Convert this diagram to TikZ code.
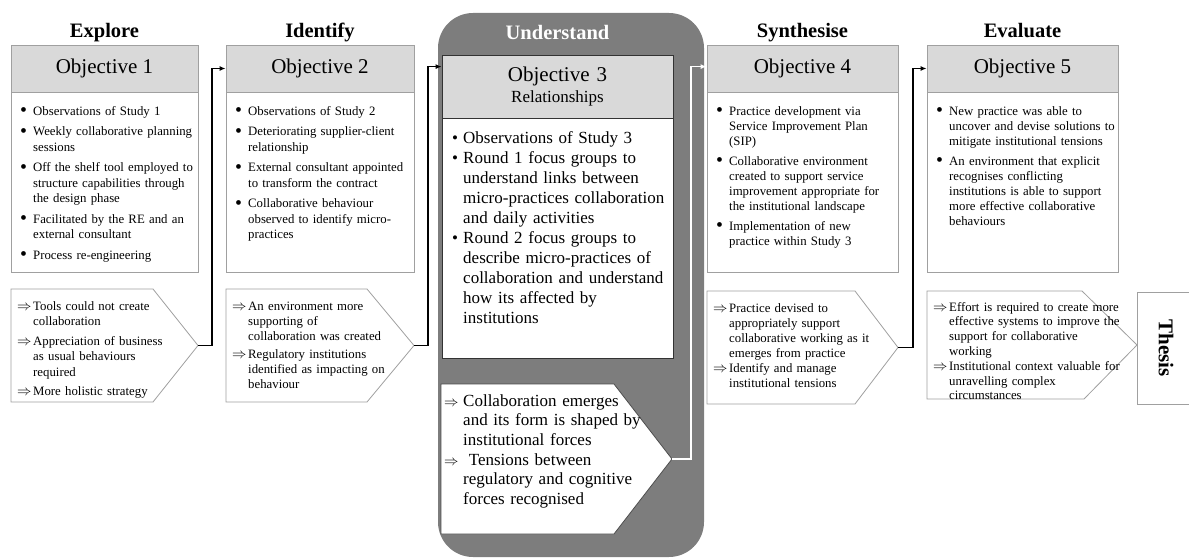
\documentclass[tikz,border=0pt]{standalone}
\usepackage{fontspec}
\setmainfont{Liberation Serif}
\usetikzlibrary{arrows.meta,calc}
\definecolor{hdrfill}{RGB}{217,217,217}
\definecolor{edge}{RGB}{160,160,160}
\definecolor{panel}{RGB}{125,125,125}
% bullet / implication markers hanging left of the text column
\newcommand\bigdot{\raisebox{-1.6pt}{\scalebox{1.55}{\textbullet}}}
\newcommand\bl{\leavevmode\llap{\makebox[12pt][l]{\hspace{-1pt}\bigdot}}\strut}
\newcommand\blw{\leavevmode\llap{\makebox[11pt][l]{\textbullet}}\strut}
\newcommand\ar{\leavevmode\llap{\makebox[16pt][l]{\fontsize{14.5}{10}\selectfont$\Rightarrow$}}\strut}
\newcommand\arw{\leavevmode\llap{\makebox[19pt][l]{\fontsize{15}{10}\selectfont$\Rightarrow$}}\strut}
\newcommand\gap[1]{\par\vspace{#1}}
\tikzset{
  stage/.style={font=\bfseries\fontsize{20.5}{22}\selectfont, anchor=base, inner sep=0pt},
  objbox/.style={draw=edge, fill=hdrfill, line width=0.8pt, inner sep=0pt, font=\fontsize{21}{21}\selectfont},
  bodybox/.style={draw=edge, fill=white, line width=0.8pt, inner sep=0pt},
  pent/.style={draw=edge, fill=white, line width=0.8pt},
  txt/.style={anchor=north west, inner sep=0pt, text width=230pt,
    font=\fontsize{12.8}{15.5}\selectfont,
    execute at begin node={\parindent0pt\raggedright}},
  bigtxt/.style={txt, font=\fontsize{17}{20}\selectfont},
  link/.style={line width=1.8pt, -{Latex[length=6pt,width=5pt]}},
}
\begin{document}
\begin{tikzpicture}[x=1pt,y=-1pt]
\useasboundingbox (0,0) rectangle (1189,559);
\clip (0,0) rectangle (1189,559);

% panel behind the third stage
\fill[panel, rounded corners=35pt] (438,13) rectangle (704,557);

% stage titles
\node[stage] (s1) at (104.5,38) {Explore};
\node[stage] (s2) at (320,38) {Identify};
\node[stage, text=white] (s3) at (557.5,40) {Understand};
\node[stage] (s4) at (802.5,38) {Synthesise};
\node[stage] (s5) at (1022.5,38) {Evaluate};

% ---------- Objective 1 ----------
\node[objbox, minimum width=187, minimum height=47] (h1) at (104.5,68.5) {Objective 1};
\node[bodybox, minimum width=187, minimum height=180] (b1) at (104.5,182) {};
\node[txt] (b1t) at (33,104.15) {\bl Observations of Study 1\gap{5pt}
\bl Weekly collaborative planning\\sessions\gap{5pt}
\bl Off the shelf tool employed to\\structure capabilities through\\the design phase\gap{5pt}
\bl Facilitated by the RE and an\\external consultant\gap{5pt}
\bl Process re-engineering};
\draw[pent] (11,289) -- (153,289) -- (198,345.5) -- (153,402) -- (11,402) -- cycle;
\coordinate (t1) at (198,345.5);
\node[txt] (p1t) at (33,299.15) {\ar Tools could not create\\collaboration\gap{4pt}
\ar Appreciation of business\\as usual behaviours\\required\gap{4pt}
\ar More holistic strategy};

% ---------- Objective 2 ----------
\node[objbox, minimum width=188, minimum height=47] (h2) at (320,68.5) {Objective 2};
\node[bodybox, minimum width=188, minimum height=180] (b2) at (320,182) {};
\node[txt] (b2t) at (248,104.15) {\bl Observations of Study 2\gap{5pt}
\bl Deteriorating supplier-client\\relationship\gap{5pt}
\bl External consultant appointed\\to transform the contract\gap{5pt}
\bl Collaborative behaviour\\observed to identify micro-\\practices};
\draw[pent] (226,289) -- (367,289) -- (414,345.5) -- (367,402) -- (226,402) -- cycle;
\coordinate (t2) at (414,345.5);
\node[txt, font=\fontsize{12.8}{15}\selectfont] (p2t) at (248,299.5) {\ar An environment more\\supporting of\\collaboration was created\gap{3pt}
\ar Regulatory institutions\\identified as impacting on\\behaviour};

% ---------- Objective 3 ----------
\node[objbox, draw=black!80, minimum width=231, minimum height=63, text width=231pt, align=center] (h3) at (557.5,86.5)
  {{\fontsize{21}{21}\selectfont Objective 3}\\\fontsize{17}{19}\selectfont Relationships};
\node[bodybox, draw=black!80, minimum width=231, minimum height=240] (b3) at (557.5,238) {};
\node[bigtxt] (b3t) at (463,129) {\blw Observations of Study 3\par
\blw Round 1 focus groups to\\understand links between\\micro-practices collaboration\\and daily activities\par
\blw Round 2 focus groups to\\describe micro-practices of\\collaboration and understand\\how its affected by\\institutions};
\draw[pent, draw=black!70] (441,384) -- (614,384) -- (672,459) -- (614,534) -- (441,534) -- cycle;
\coordinate (t3) at (672,459);
\node[bigtxt, font=\fontsize{17}{19.6}\selectfont] (p3t) at (463,392.3) {\arw Collaboration emerges\\and its form is shaped by\\institutional forces\par
\arw\ Tensions between\\regulatory and cognitive\\forces recognised};

% ---------- Objective 4 ----------
\node[objbox, minimum width=191, minimum height=47] (h4) at (802.5,68.5) {Objective 4};
\node[bodybox, minimum width=191, minimum height=180] (b4) at (802.5,182) {};
\node[txt, font=\fontsize{12.8}{15}\selectfont] (b4t) at (729,104.5) {\bl Practice development via\\Service Improvement Plan\\(SIP)\gap{5pt}
\bl Collaborative environment\\created to support service\\improvement appropriate for\\the institutional landscape\gap{5pt}
\bl Implementation of new\\practice within Study 3};
\draw[pent] (707,291) -- (855,291) -- (898,347.5) -- (855,404) -- (707,404) -- cycle;
\coordinate (t4) at (898,347.5);
\node[txt, font=\fontsize{12.8}{15}\selectfont] (p4t) at (729,301.5) {\ar Practice devised to\\appropriately support\\collaborative working as it\\emerges from practice\par
\ar Identify and manage\\institutional tensions};

% ---------- Objective 5 ----------
\node[objbox, minimum width=191, minimum height=47] (h5) at (1022.5,68.5) {Objective 5};
\node[bodybox, minimum width=191, minimum height=180] (b5) at (1022.5,182) {};
\node[txt, font=\fontsize{12.8}{15}\selectfont] (b5t) at (949,104.5) {\bl New practice was able to\\uncover and devise solutions to\\mitigate institutional tensions\gap{5pt}
\bl An environment that explicit\\recognises conflicting\\institutions is able to support\\more effective collaborative\\behaviours};
\draw[pent] (927,291) -- (1082,291) -- (1137,345) -- (1084,399) -- (927,399) -- cycle;
\node[txt, font=\fontsize{12.8}{14.8}\selectfont] (p5t) at (949,300.6) {\ar Effort is required to create more\\effective systems to improve the\\support for collaborative\\working\par
\ar Institutional context valuable for\\unravelling complex\\circumstances};

% ---------- Thesis ----------
\node[draw=edge, fill=white, line width=0.8pt, rotate=-90, minimum width=112, minimum height=58,
  font=\bfseries\fontsize{21}{21}\selectfont] (th) at (1166,348) {Thesis};

% ---------- connectors ----------
\draw[link] (t1) -- ++(14,0) |- (h2.west);
\draw[link] (t2) -- ++(14,0) |- ($(h3.north west)+(0,12)$);
\draw[link, white] (t3) -- ++(19,0) |- ($(h4.north west)+(0,22)$);
\draw[link] (t4) -- ++(15,0) |- (h5.west);
\end{tikzpicture}
\end{document}
